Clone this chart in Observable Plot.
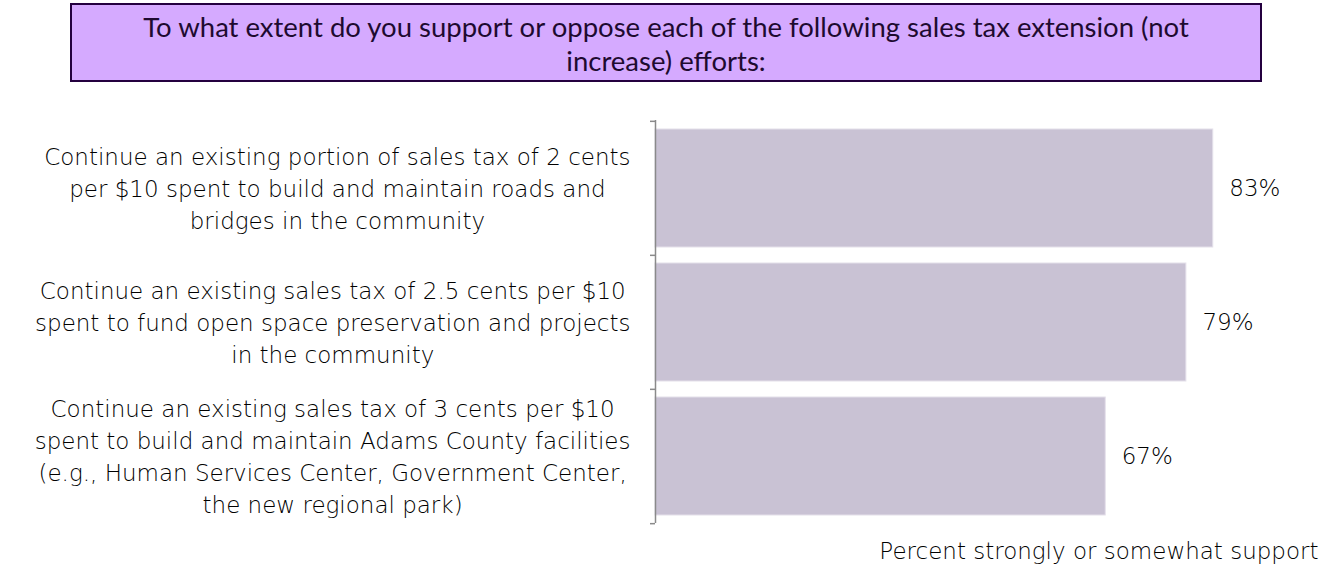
<!DOCTYPE html>
<html>
<head>
<meta charset="utf-8">
<script src="https://cdn.jsdelivr.net/npm/d3@7"></script>
<script src="https://cdn.jsdelivr.net/npm/@observablehq/plot@0.6"></script>
<style>
  html, body { margin: 0; padding: 0; background: #fff; }
  #title {
    box-sizing: border-box;
    margin: 3px 0 0 70px;
    width: 1192px;
    height: 79px;
    border: 2.5px solid #24003f;
    background: #d5aaff;
    color: #1e0a30;
    font-family: Lato, sans-serif;
    font-size: 27.5px;
    line-height: 34px;
    text-align: center;
    padding-top: 5px;
  }
  #chart svg { display: block; }
</style>
</head>
<body>
<div id="title">To what extent do you support or oppose each of the following sales tax extension (not<br>increase) efforts:</div>
<div id="chart"></div>
<script>
const categories = [
  "Continue an existing portion of sales tax of 2 cents\nper $10 spent to build and maintain roads and\nbridges in the community",
  "Continue an existing sales tax of 2.5 cents per $10\nspent to fund open space preservation and projects\nin the community",
  "Continue an existing sales tax of 3 cents per $10\nspent to build and maintain Adams County facilities\n(e.g., Human Services Center, Government Center,\nthe new regional park)"
];
const values = [0.83, 0.79, 0.67];
const valueLabels = ["83%", "79%", "67%"];
const axisLabel = "Percent strongly or somewhat support";

const data = categories.map((c, i) => ({category: c, value: values[i], label: valueLabels[i]}));

const W = 1324, H = 484, MT = 38, MB = 43;
const step = (H - MT - MB) / categories.length;
const labelFont = "DejaVu Sans";
const labelSize = 23;
const labelWeight = 300;

const ctx = document.createElement("canvas").getContext("2d");
ctx.font = `${labelWeight} ${labelSize}px "${labelFont}"`;
const blockWidth = c => Math.max(...c.split("\n").map(s => ctx.measureText(s).width));

const labelMarks = categories.map(c =>
  Plot.text([c], {
    x: () => 0, y: d => d, text: d => d,
    textAnchor: "middle", lineAnchor: "middle", lineHeight: 32 / labelSize,
    dx: -(25 + blockWidth(c) / 2), dy: -2,
    fontSize: labelSize, fontWeight: labelWeight, fill: "#000"
  })
);

const chart = Plot.plot({
  width: W, height: H,
  marginTop: MT, marginBottom: MB, marginLeft: 655, marginRight: 0,
  style: {fontFamily: labelFont, fontSize: labelSize + "px", background: "white"},
  x: {domain: [0, 1], range: [655, 1327], axis: null},
  y: {domain: categories, paddingInner: 0.12, paddingOuter: 0.06, axis: null},
  marks: [
    Plot.barX(data, {x: "value", y: "category", fill: "#c9c2d4", stroke: "#e4e0ea", strokeWidth: 1}),
    Plot.ruleX([0], {stroke: "#8a8a8a", strokeWidth: 1.5}),
    Plot.ruleY(categories, {y: d => d, x1: 0, x2: 0, insetLeft: -5, dy: -step / 2, stroke: "#8a8a8a", strokeWidth: 1.5}),
    Plot.ruleY(categories.slice(-1), {y: d => d, x1: 0, x2: 0, insetLeft: -5, dy: step / 2, stroke: "#8a8a8a", strokeWidth: 1.5}),
    Plot.text(data, {x: "value", y: "category", text: "label", dx: 16, textAnchor: "start", fontSize: labelSize, fontWeight: labelWeight, fill: "#000"}),
    ...labelMarks,
    Plot.text([axisLabel], {frameAnchor: "bottom-right", text: d => d, dx: -6, dy: 35, textAnchor: "end", fontSize: labelSize, fontWeight: labelWeight, fill: "#000"})
  ]
});
document.getElementById("chart").appendChild(chart);
</script>
</body>
</html>
